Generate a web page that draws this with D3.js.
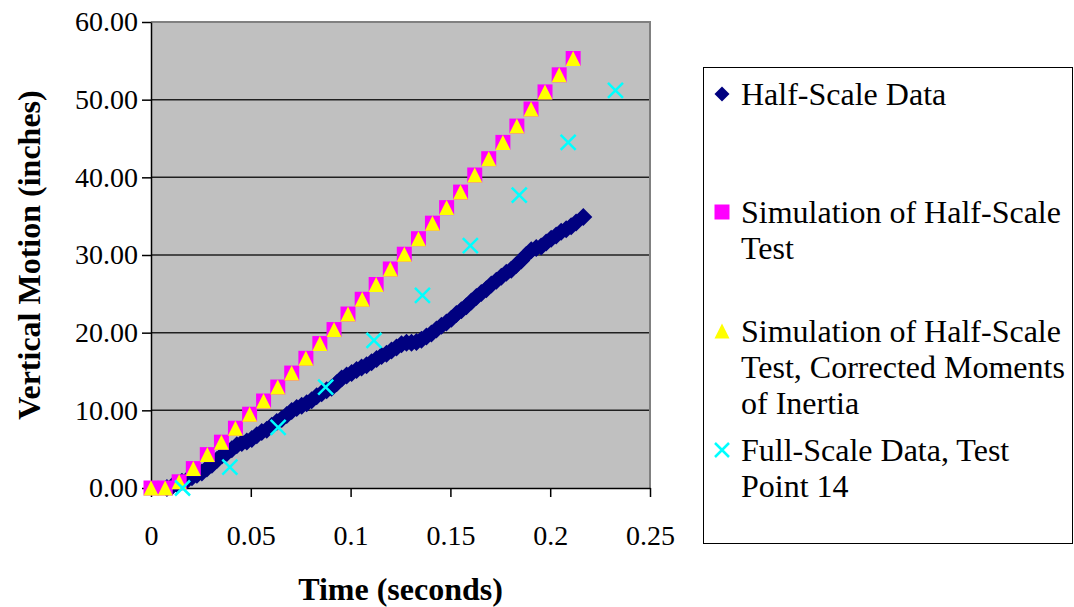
<!DOCTYPE html>
<html>
<head>
<meta charset="utf-8">
<script src="https://cdn.jsdelivr.net/npm/d3@7"></script>
<style>
  html, body { margin: 0; padding: 0; background: #ffffff; }
  svg { display: block; }
  text { font-family: "Liberation Serif", "Times New Roman", serif; fill: #000; }
</style>
</head>
<body>
<svg id="chart" width="1074" height="607"></svg>
<script>
// ---- Data ----
const halfScaleTime = [0.008,0.0105,0.013,0.0155,0.018,0.0205,0.023,0.0255,0.028,0.0305,0.033,0.0355,0.038,0.0405,0.043,0.0455,0.048,0.0505,0.053,0.0555,0.058,0.0605,0.063,0.0655,0.068,0.0705,0.073,0.0755,0.078,0.0805,0.083,0.0855,0.088,0.0905,0.093,0.0955,0.098,0.1005,0.103,0.1055,0.108,0.1105,0.113,0.1155,0.118,0.1205,0.123,0.1255,0.128,0.1305,0.133,0.1355,0.138,0.1405,0.143,0.1455,0.148,0.1505,0.153,0.1555,0.158,0.1605,0.163,0.1655,0.168,0.1705,0.173,0.1755,0.178,0.1805,0.183,0.1855,0.188,0.1905,0.193,0.1955,0.198,0.2005,0.203,0.2055,0.208,0.2105,0.213,0.2166];
const halfScaleMotion = [0,0.2,0.5,0.8,1.0,1.4,1.7,2.0,2.5,3.0,3.6,4.2,4.5,5.0,5.5,5.8,6.0,6.3,6.8,7.2,7.5,8.0,8.5,8.9,9.4,9.9,10.3,10.6,10.9,11.3,11.8,12.2,12.6,12.9,13.5,14.1,14.5,14.8,15.2,15.5,15.8,16.2,16.6,17.0,17.3,17.7,18.1,18.5,18.7,18.7,18.8,19.1,19.5,19.9,20.4,20.9,21.3,21.8,22.4,22.9,23.4,24.0,24.6,25.1,25.6,26.2,26.7,27.2,27.7,28.1,28.7,29.3,30.0,30.6,30.9,31.1,31.6,32.1,32.5,33.0,33.3,33.7,34.2,34.9];

const simTime = [0,0.0071,0.0141,0.0212,0.0282,0.0353,0.0423,0.0494,0.0564,0.0635,0.0705,0.0776,0.0846,0.0917,0.0987,0.1058,0.1128,0.1199,0.1269,0.134,0.141,0.1481,0.1551,0.1622,0.1692,0.1763,0.1833,0.1904,0.1974,0.2045,0.2115];
const simMotion = [0,0,0.8,2.5,4.3,5.9,7.7,9.5,11.2,13.0,14.8,16.7,18.6,20.4,22.4,24.3,26.2,28.2,30.1,32.1,34.1,36.1,38.1,40.3,42.4,44.5,46.6,48.8,51.0,53.2,55.3];
const simCorrectedTime = [0,0.0071,0.0141,0.0212,0.0282,0.0353,0.0423,0.0494,0.0564,0.0635,0.0705,0.0776,0.0846,0.0917,0.0987,0.1058,0.1128,0.1199,0.1269,0.134,0.141,0.1481,0.1551,0.1622,0.1692,0.1763,0.1833,0.1904,0.1974,0.2045,0.2115];
const simCorrectedMotion = [0,0,0.8,2.5,4.3,5.9,7.7,9.5,11.2,13.0,14.8,16.7,18.6,20.4,22.4,24.3,26.2,28.2,30.1,32.1,34.1,36.1,38.1,40.3,42.4,44.5,46.6,48.8,51.0,53.2,55.3];

const fullScaleTime = [0.0158,0.0395,0.0637,0.0875,0.1117,0.136,0.160,0.1845,0.209,0.2327];
const fullScaleMotion = [0,2.7,7.8,13.0,19.0,24.8,31.2,37.7,44.5,51.2];

const xTicks = [0,0.05,0.1,0.15,0.2,0.25];
const xTickLabels = ["0","0.05","0.1","0.15","0.2","0.25"];
const yTicks = [0,10,20,30,40,50,60];

const seriesNames = ["Half-Scale Data", "Simulation of Half-Scale Test", "Simulation of Half-Scale Test, Corrected Moments of Inertia", "Full-Scale Data, Test Point 14"];
const legendLines = [["Half-Scale Data"], ["Simulation of Half-Scale", "Test"], ["Simulation of Half-Scale", "Test, Corrected Moments", "of Inertia"], ["Full-Scale Data, Test", "Point 14"]];

// ---- Layout ----
const svg = d3.select("#chart");
const plot = { left: 151, right: 650, top: 22, bottom: 488 };
const x = d3.scaleLinear().domain([0, 0.25]).range([plot.left, plot.right]);
const y = d3.scaleLinear().domain([0, 60]).range([plot.bottom, plot.top]);

const colors = { half: "#000080", sim: "#FF00FF", simC: "#FFFF00", full: "#00FFFF" };

// plot background
svg.append("rect")
  .attr("x", plot.left).attr("y", plot.top)
  .attr("width", plot.right - plot.left).attr("height", plot.bottom - plot.top)
  .attr("fill", "#C0C0C0");

// gridlines
svg.append("g").selectAll("line").data(yTicks.filter(d => d > 0 && d < 60)).join("line")
  .attr("x1", plot.left).attr("x2", plot.right)
  .attr("y1", d => y(d)).attr("y2", d => y(d))
  .attr("stroke", "#202020").attr("stroke-width", 1.5);

// plot border (top/right gray)
svg.append("path")
  .attr("d", `M${plot.left},${plot.top}H${plot.right}V${plot.bottom}`)
  .attr("fill", "none").attr("stroke", "#808080").attr("stroke-width", 2);

// axes
const yAxis = d3.axisLeft(y).tickValues(yTicks).tickFormat(d3.format(".2f")).tickSizeInner(9).tickSizeOuter(0).tickPadding(4);
const yG = svg.append("g").attr("transform", `translate(${plot.left},0)`).call(yAxis);
const xAxis = d3.axisBottom(x).tickValues(xTicks).tickFormat((d, i) => xTickLabels[i]).tickSizeInner(9).tickSizeOuter(0).tickPadding(28);
const xG = svg.append("g").attr("transform", `translate(0,${plot.bottom})`).call(xAxis);
[yG, xG].forEach(g => {
  g.select(".domain").attr("stroke", "#000").attr("stroke-width", 1.5);
  g.selectAll(".tick line").attr("stroke", "#000").attr("stroke-width", 1.5);
  g.selectAll(".tick text").style("font-family", "'Liberation Serif', serif").style("font-size", "28px").attr("fill", "#000");
});

// ---- Marks ----
const diamondPath = s => `M0,${-s/2}L${s/2},0L0,${s/2}L${-s/2},0Z`;
const squarePath = s => `M${-s/2},${-s/2}H${s/2}V${s/2}H${-s/2}Z`;
const trianglePath = s => `M0,${-s/2}L${s/2},${s/2}L${-s/2},${s/2}Z`;
const crossPath = s => `M${-s/2},${-s/2}L${s/2},${s/2}M${s/2},${-s/2}L${-s/2},${s/2}`;

const halfData = halfScaleTime.map((t, i) => ({ t, v: halfScaleMotion[i] }));
const simData = simTime.map((t, i) => ({ t, v: simMotion[i] }));
const simCData = simCorrectedTime.map((t, i) => ({ t, v: simCorrectedMotion[i] }));
const fullData = fullScaleTime.map((t, i) => ({ t, v: fullScaleMotion[i] }));

svg.append("g").selectAll("path").data(halfData).join("path")
  .attr("transform", d => `translate(${x(d.t)},${y(d.v)})`)
  .attr("d", diamondPath(18)).attr("fill", colors.half);

svg.append("g").selectAll("path").data(simData).join("path")
  .attr("transform", d => `translate(${x(d.t)},${y(d.v)})`)
  .attr("d", squarePath(15)).attr("fill", colors.sim);

svg.append("g").selectAll("path").data(simCData).join("path")
  .attr("transform", d => `translate(${x(d.t)},${y(d.v)})`)
  .attr("d", trianglePath(15)).attr("fill", colors.simC);

svg.append("g").selectAll("path").data(fullData).join("path")
  .attr("transform", d => `translate(${x(d.t)},${y(d.v)})`)
  .attr("d", crossPath(15)).attr("fill", "none").attr("stroke", colors.full).attr("stroke-width", 2.5);

// ---- Axis titles ----
svg.append("text")
  .attr("transform", `translate(29,${(plot.top + plot.bottom) / 2}) rotate(-90)`)
  .attr("text-anchor", "middle").attr("dominant-baseline", "central")
  .style("font-size", "32px").style("font-weight", "bold")
  .text("Vertical Motion (inches)");
svg.append("text")
  .attr("x", (plot.left + plot.right) / 2).attr("y", 589)
  .attr("text-anchor", "middle").attr("dominant-baseline", "central")
  .style("font-size", "32px").style("font-weight", "bold")
  .text("Time (seconds)");

// ---- Legend ----
const legend = svg.append("g");
legend.append("rect").attr("x", 703.5).attr("y", 67.5).attr("width", 369).attr("height", 476)
  .attr("fill", "#fff").attr("stroke", "#000").attr("stroke-width", 1);
const legendRowY = [94, 212, 331, 450];
const lineH = 36;
const legendSyms = [
  g => g.append("path").attr("d", diamondPath(15)).attr("fill", colors.half),
  g => g.append("path").attr("d", squarePath(15)).attr("fill", colors.sim),
  g => g.append("path").attr("d", trianglePath(15)).attr("fill", colors.simC),
  g => g.append("path").attr("d", crossPath(14)).attr("fill", "none").attr("stroke", colors.full).attr("stroke-width", 2.5)
];
seriesNames.forEach((name, i) => {
  const g = legend.append("g").attr("transform", `translate(722,${legendRowY[i]})`);
  legendSyms[i](g);
  legendLines[i].forEach((ln, j) => {
    legend.append("text")
      .attr("x", 741).attr("y", legendRowY[i] + j * lineH)
      .attr("dominant-baseline", "central")
      .style("font-size", "32px")
      .text(ln);
  });
});
</script>
</body>
</html>
